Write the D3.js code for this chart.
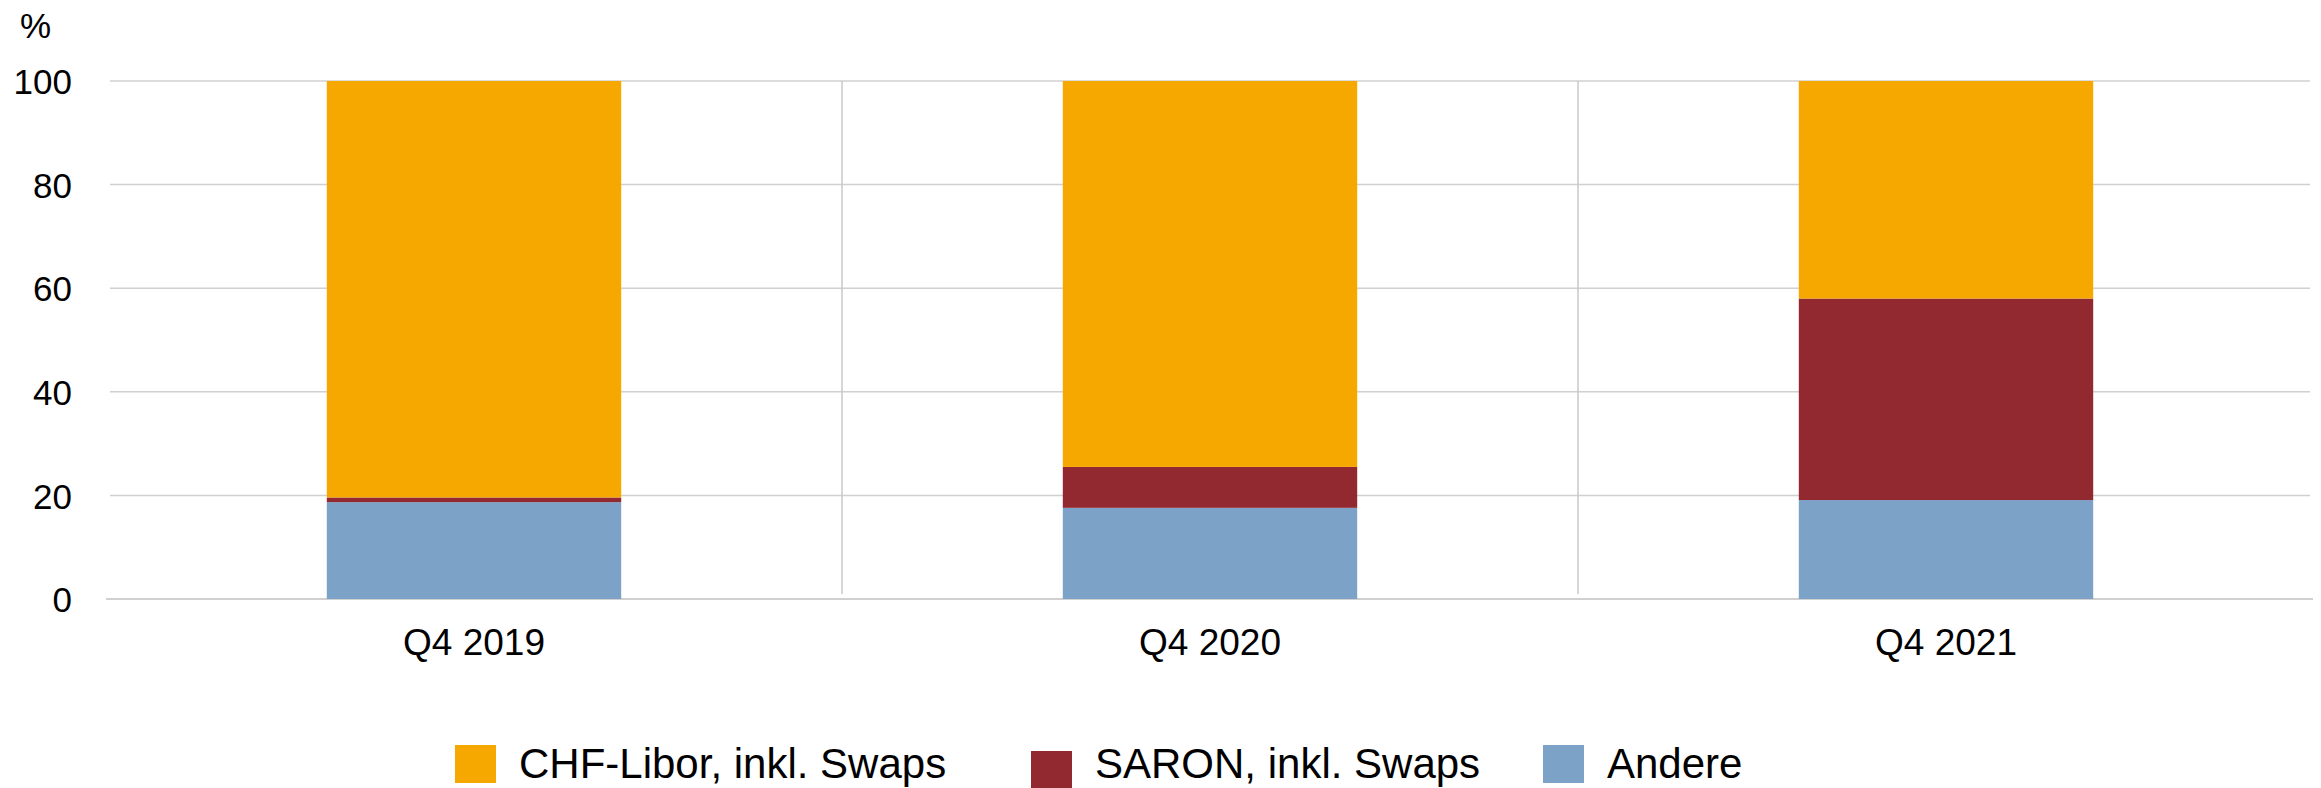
<!DOCTYPE html>
<html>
<head>
<meta charset="utf-8">
<script src="https://cdn.jsdelivr.net/npm/d3@7"></script>
<style>
  html, body { margin: 0; padding: 0; background: #fff; }
  svg { display: block; font-family: "Liberation Sans", Arial, sans-serif; }
</style>
</head>
<body>
<svg id="chart" width="2321" height="788"></svg>
<script>
// Quarters shown on the x axis
const categories = ["Q4 2019", "Q4 2020", "Q4 2021"];

// Shares in percent, stacked bottom to top: Andere, SARON, CHF-Libor
const andere   = [18.7, 17.6, 19.1];
const saron    = [0.9, 7.9, 38.9];
const chfLibor = [80.4, 74.5, 42.0];

const seriesNames = ["Andere", "SARON, inkl. Swaps", "CHF-Libor, inkl. Swaps"];
const seriesColors = ["#7ca2c7", "#922830", "#f7a800"];

const yTicks = [0, 20, 40, 60, 80, 100];
const yUnit = "%";

// Legend order as printed under the chart
const legendOrder = ["CHF-Libor, inkl. Swaps", "SARON, inkl. Swaps", "Andere"];

// ---- layout ----
const W = 2321, H = 788;
const plot = { left: 106, right: 2314, top: 81, bottom: 599 };
const legendLayout = { x: [455, 1031, 1543], y: [745, 751, 745], h: [38, 37, 38], w: 41, gap: 23, baseline: 778 };

const svg = d3.select("#chart");

const x = d3.scaleBand()
  .domain(categories)
  .range([plot.left, plot.right])
  .paddingInner(0.6)
  .paddingOuter(0.3);

const y = d3.scaleLinear()
  .domain([0, 100])
  .range([plot.bottom, plot.top]);

const color = d3.scaleOrdinal().domain(seriesNames).range(seriesColors);

// horizontal gridlines
svg.append("g")
  .selectAll("line")
  .data(yTicks)
  .join("line")
  .attr("x1", d => d === 0 ? plot.left : plot.left + 4)
  .attr("x2", d => d === 0 ? plot.right - 1 : plot.right - 4)
  .attr("y1", d => y(d))
  .attr("y2", d => y(d))
  .attr("stroke", "#d0d0d0")
  .attr("stroke-width", d => d === 0 ? 2 : 1.5);

// vertical separators between categories
const step = x.step();
svg.append("g")
  .selectAll("line")
  .data(categories.slice(1))
  .join("line")
  .attr("x1", d => x(d) - step * x.paddingInner() / 2)
  .attr("x2", d => x(d) - step * x.paddingInner() / 2)
  .attr("y1", y(100))
  .attr("y2", y(0) - 5)
  .attr("stroke", "#c8c8c8")
  .attr("stroke-width", 1.5);

// stacked bars
const rows = categories.map((c, i) => ({
  cat: c,
  "Andere": andere[i],
  "SARON, inkl. Swaps": saron[i],
  "CHF-Libor, inkl. Swaps": chfLibor[i]
}));
const stacked = d3.stack().keys(seriesNames)(rows);

svg.append("g")
  .selectAll("g")
  .data(stacked)
  .join("g")
  .attr("fill", s => color(s.key))
  .selectAll("rect")
  .data(s => s)
  .join("rect")
  .attr("x", d => x(d.data.cat))
  .attr("width", x.bandwidth())
  .attr("y", d => y(d[1]))
  .attr("height", d => y(d[0]) - y(d[1]));

// y axis labels
const yAxis = d3.axisLeft(y).tickValues(yTicks).tickSize(0).tickPadding(0);
const gy = svg.append("g")
  .attr("transform", `translate(72,0)`)
  .call(yAxis);
gy.select(".domain").remove();
gy.selectAll("text")
  .attr("font-size", 35)
  .attr("font-family", "Liberation Sans, Arial, sans-serif")
  .attr("fill", "#000")
  .attr("dy", "0.36em");

svg.append("text")
  .attr("x", 20)
  .attr("y", 38)
  .attr("font-size", 35)
  .attr("fill", "#000")
  .text(yUnit);

// x axis labels
const xAxis = d3.axisBottom(x).tickSize(0).tickPadding(0);
const gx = svg.append("g")
  .attr("transform", `translate(0,${plot.bottom})`)
  .call(xAxis);
gx.select(".domain").remove();
gx.selectAll("text")
  .attr("font-size", 37)
  .attr("font-family", "Liberation Sans, Arial, sans-serif")
  .attr("fill", "#000")
  .attr("dy", null)
  .attr("y", 56);

// legend
const lg = svg.append("g")
  .selectAll("g")
  .data(legendOrder)
  .join("g");

lg.append("rect")
  .attr("x", (d, i) => legendLayout.x[i])
  .attr("y", (d, i) => legendLayout.y[i])
  .attr("width", legendLayout.w)
  .attr("height", (d, i) => legendLayout.h[i])
  .attr("fill", d => color(d));

lg.append("text")
  .attr("x", (d, i) => legendLayout.x[i] + legendLayout.w + legendLayout.gap)
  .attr("y", legendLayout.baseline)
  .attr("font-size", 42)
  .attr("fill", "#000")
  .text(d => d);
</script>
</body>
</html>
